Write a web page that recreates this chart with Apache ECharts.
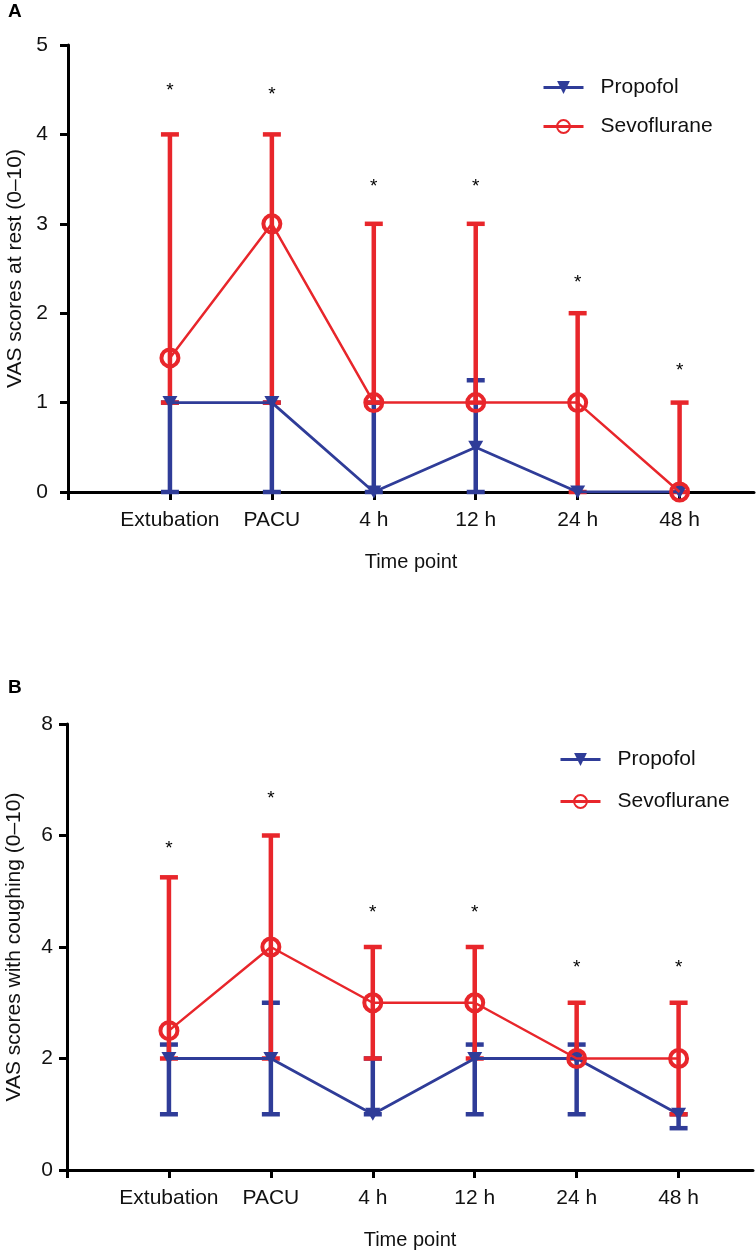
<!DOCTYPE html>
<html>
<head>
<meta charset="utf-8">
<script src="https://cdn.jsdelivr.net/npm/echarts@6/dist/echarts.min.js"></script>
<style>
html,body{margin:0;padding:0;background:#fff;}
#chart{width:756px;height:1255px;}
</style>
</head>
<body>
<div id="chart"></div>
<script>
// ---- data ----
const categories = ['Extubation', 'PACU', '4 h', '12 h', '24 h', '48 h'];
const seriesNames = ['Propofol', 'Sevoflurane'];

// Panel A: VAS at rest
const restPropofol = [1, 1, 0, 0.5, 0, 0];
const restPropofolLow = [0, 0, 0, 0, 0, 0];
const restPropofolHigh = [1, 1, 1, 1.25, 0, 0];
const restSevo = [1.5, 3, 1, 1, 1, 0];
const restSevoLow = [1, 1, 1, 1, 0, 0];
const restSevoHigh = [4, 4, 3, 3, 2, 1];
const restStars = [4.54, 4.5, 3.47, 3.47, 2.4, 1.41];

// Panel B: VAS with coughing
const coughPropofol = [2, 2, 1, 2, 2, 1];
const coughPropofolLow = [1, 1, 1, 1, 1, 0.75];
const coughPropofolHigh = [2.25, 3, 2, 2.25, 2.25, 1];
const coughSevo = [2.5, 4, 3, 3, 2, 2];
const coughSevoLow = [2, 2, 2, 2, 2, 1];
const coughSevoHigh = [5.25, 6, 4, 4, 3, 3];
const coughStars = [5.85, 6.74, 4.7, 4.7, 3.71, 3.71];

const yTicksRest = [0, 1, 2, 3, 4, 5];
const yTicksCough = [0, 2, 4, 6, 8];

// ---- styling ----
const BLUE = '#2f3c98';
const RED = '#e8262b';
const FONT = '"Liberation Sans", Arial, Helvetica, sans-serif';

const pts = (vals) => vals.map((v, i) => [i + 1, v]);
const bars = (lo, hi) => lo.map((v, i) => [i + 1, v, hi[i]]);

function errRender(color) {
  return function (params, api) {
    const x = api.value(0), lo = api.value(1), hi = api.value(2);
    if (lo === hi) return null;
    const a = api.coord([x, lo]), b = api.coord([x, hi]);
    const hw = 9;
    const st = { stroke: color, lineWidth: 4.5 };
    return {
      type: 'group',
      children: [
        { type: 'line', shape: { x1: a[0], y1: a[1], x2: b[0], y2: b[1] }, style: st },
        { type: 'line', shape: { x1: a[0] - hw, y1: a[1], x2: a[0] + hw, y2: a[1] }, style: st },
        { type: 'line', shape: { x1: b[0] - hw, y1: b[1], x2: b[0] + hw, y2: b[1] }, style: st }
      ]
    };
  };
}

function starRender(params, api) {
  const p = api.coord([api.value(0), api.value(1)]);
  return {
    type: 'text',
    x: p[0], y: p[1] + 5,
    style: { text: '*', fontSize: 19, fill: '#000', align: 'center', verticalAlign: 'middle', fontFamily: FONT }
  };
}

function xAxisCfg(gridIndex) {
  return {
    type: 'value', gridIndex, min: 0, max: 6.73, interval: 1,
    name: 'Time point', nameLocation: 'middle', nameGap: 60,
    nameTextStyle: { fontSize: 20, color: '#111', fontFamily: FONT },
    axisLine: { show: true, onZero: false, lineStyle: { color: '#000', width: 3 } },
    axisTick: { show: true, length: 8, lineStyle: { color: '#000', width: 3 }, customValues: [0, 1, 2, 3, 4, 5, 6] },
    axisLabel: {
      fontSize: 21, color: '#111', margin: 18, fontFamily: FONT,
      customValues: [1, 2, 3, 4, 5, 6],
      formatter: (v) => categories[Math.round(v) - 1] || ''
    },
    splitLine: { show: false }
  };
}

function yAxisCfg(gridIndex, max, interval, name, margin, ticks) {
  return {
    type: 'value', gridIndex, min: 0, max, interval,
    name, nameLocation: 'middle', nameGap: 42,
    nameTextStyle: { fontSize: 21, color: '#111', fontFamily: FONT },
    axisLine: { show: true, lineStyle: { color: '#000', width: 3 } },
    axisTick: { show: true, length: 8, lineStyle: { color: '#000', width: 3 } },
    axisLabel: { fontSize: 21, color: '#111', margin, fontFamily: FONT,
      customValues: ticks },
    splitLine: { show: false }
  };
}

function panelSeries(idx, pMed, pLo, pHi, sMed, sLo, sHi, stars) {
  return [
    { name: 'Propofol range', type: 'custom', xAxisIndex: idx, yAxisIndex: idx,
      renderItem: errRender(BLUE), data: bars(pLo, pHi), encode: { x: 0, y: [1, 2] }, z: 2, silent: true },
    { name: 'Sevoflurane range', type: 'custom', xAxisIndex: idx, yAxisIndex: idx,
      renderItem: errRender(RED), data: bars(sLo, sHi), encode: { x: 0, y: [1, 2] }, z: 2, silent: true },
    { name: seriesNames[0], type: 'line', xAxisIndex: idx, yAxisIndex: idx, data: pts(pMed),
      symbol: 'triangle', symbolRotate: 180, symbolSize: [15, 13], z: 3,
      itemStyle: { color: BLUE }, lineStyle: { color: BLUE, width: 2.8 } },
    { name: seriesNames[1], type: 'line', xAxisIndex: idx, yAxisIndex: idx, data: pts(sMed),
      symbol: 'circle', symbolSize: 17, z: 4,
      itemStyle: { color: 'rgba(255,255,255,0)', borderColor: RED, borderWidth: 4 },
      lineStyle: { color: RED, width: 2.5 } },
    { name: 'sig', type: 'custom', xAxisIndex: idx, yAxisIndex: idx,
      renderItem: starRender, data: pts(stars), encode: { x: 0, y: 1 }, z: 5, silent: true }
  ];
}

const legendBase = {
  data: seriesNames, orient: 'vertical', itemWidth: 40, itemHeight: 16, selectedMode: false,
  lineStyle: { width: 3 },
  textStyle: { fontSize: 21, color: '#111', fontFamily: FONT, padding: [0, 0, 0, 12] }
};

const chart = echarts.init(document.getElementById('chart'), null, { renderer: 'canvas' });
chart.setOption({
  animation: false,
  backgroundColor: '#fff',
  textStyle: { fontFamily: FONT },
  grid: [
    { left: 68, top: 45, width: 686, height: 447, outerBoundsMode: 'none', containLabel: false },
    { left: 67, top: 724, width: 686, height: 446, outerBoundsMode: 'none', containLabel: false }
  ],
  xAxis: [xAxisCfg(0), xAxisCfg(1)],
  yAxis: [
    yAxisCfg(0, 5, 1, 'VAS scores at rest (0–10)', 20, yTicksRest),
    yAxisCfg(1, 8, 2, 'VAS scores with coughing (0–10)', 14, yTicksCough)
  ],
  legend: [
    Object.assign({}, legendBase, { left: 537, top: 72, itemGap: 18 }),
    Object.assign({}, legendBase, { left: 554, top: 744, itemGap: 21 })
  ],
  graphic: [
    { type: 'text', left: 8, top: 2, style: { text: 'A', fontSize: 19, fontWeight: 'bold', fill: '#000', fontFamily: FONT } },
    { type: 'text', left: 8, top: 678, style: { text: 'B', fontSize: 19, fontWeight: 'bold', fill: '#000', fontFamily: FONT } }
  ],
  series: [
    ...panelSeries(0, restPropofol, restPropofolLow, restPropofolHigh, restSevo, restSevoLow, restSevoHigh, restStars),
    ...panelSeries(1, coughPropofol, coughPropofolLow, coughPropofolHigh, coughSevo, coughSevoLow, coughSevoHigh, coughStars)
  ]
});
</script>
</body>
</html>
